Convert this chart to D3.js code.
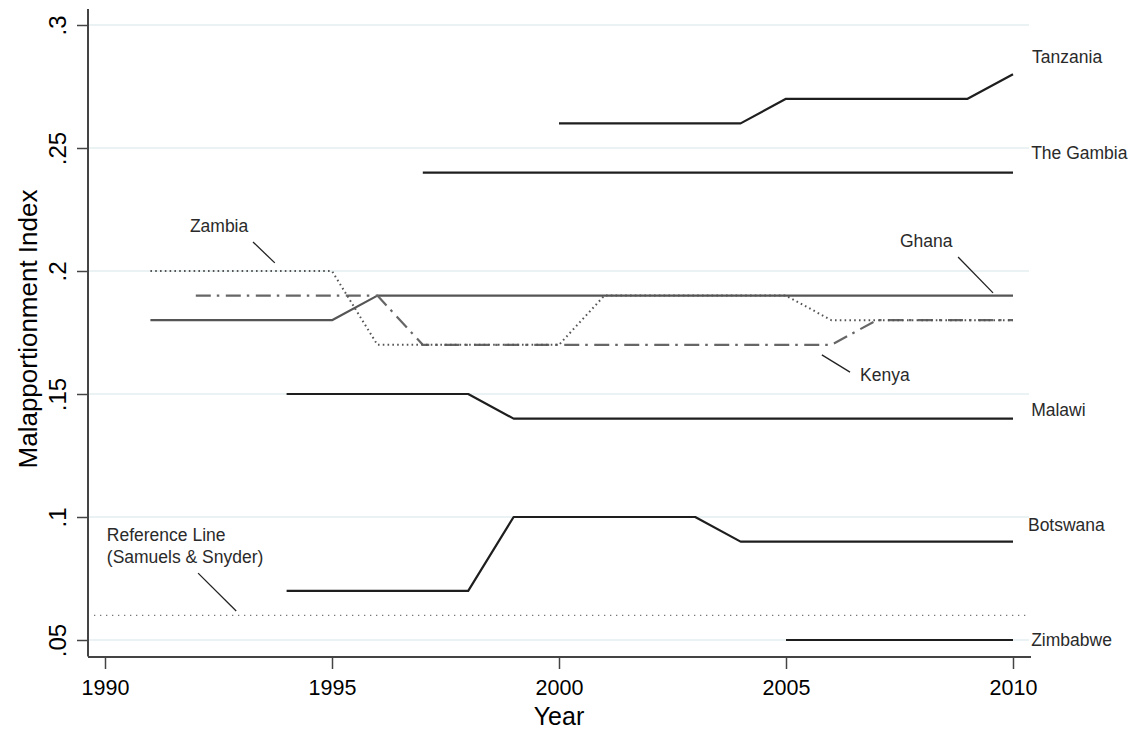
<!DOCTYPE html>
<html>
<head>
<meta charset="utf-8">
<script src="https://cdn.jsdelivr.net/npm/d3@7"></script>
<style>
  body { margin: 0; background: #fff; }
  svg { display: block; font-family: "Liberation Sans", Arial, Helvetica, sans-serif; }
</style>
</head>
<body>
<svg id="chart" width="1136" height="729"></svg>
<script>
// values
const xTicks = [1990, 1995, 2000, 2005, 2010];
const yTicks = [0.05, 0.1, 0.15, 0.2, 0.25, 0.3];
const yTickLabels = [".05", ".1", ".15", ".2", ".25", ".3"];

const tanzaniaYears = [2000, 2001, 2002, 2003, 2004, 2005, 2006, 2007, 2008, 2009, 2010];
const tanzaniaVals  = [0.26, 0.26, 0.26, 0.26, 0.26, 0.27, 0.27, 0.27, 0.27, 0.27, 0.28];

const gambiaYears = [1997, 1998, 1999, 2000, 2001, 2002, 2003, 2004, 2005, 2006, 2007, 2008, 2009, 2010];
const gambiaVals  = [0.24, 0.24, 0.24, 0.24, 0.24, 0.24, 0.24, 0.24, 0.24, 0.24, 0.24, 0.24, 0.24, 0.24];

const ghanaYears = [1991, 1992, 1993, 1994, 1995, 1996, 1997, 1998, 1999, 2000, 2001, 2002, 2003, 2004, 2005, 2006, 2007, 2008, 2009, 2010];
const ghanaVals  = [0.18, 0.18, 0.18, 0.18, 0.18, 0.19, 0.19, 0.19, 0.19, 0.19, 0.19, 0.19, 0.19, 0.19, 0.19, 0.19, 0.19, 0.19, 0.19, 0.19];

const zambiaYears = [1991, 1992, 1993, 1994, 1995, 1996, 1997, 1998, 1999, 2000, 2001, 2002, 2003, 2004, 2005, 2006, 2007, 2008, 2009, 2010];
const zambiaVals  = [0.20, 0.20, 0.20, 0.20, 0.20, 0.17, 0.17, 0.17, 0.17, 0.17, 0.19, 0.19, 0.19, 0.19, 0.19, 0.18, 0.18, 0.18, 0.18, 0.18];

const kenyaYears = [1992, 1993, 1994, 1995, 1996, 1997, 1998, 1999, 2000, 2001, 2002, 2003, 2004, 2005, 2006, 2007, 2008, 2009, 2010];
const kenyaVals  = [0.19, 0.19, 0.19, 0.19, 0.19, 0.17, 0.17, 0.17, 0.17, 0.17, 0.17, 0.17, 0.17, 0.17, 0.17, 0.18, 0.18, 0.18, 0.18];

const malawiYears = [1994, 1995, 1996, 1997, 1998, 1999, 2000, 2001, 2002, 2003, 2004, 2005, 2006, 2007, 2008, 2009, 2010];
const malawiVals  = [0.15, 0.15, 0.15, 0.15, 0.15, 0.14, 0.14, 0.14, 0.14, 0.14, 0.14, 0.14, 0.14, 0.14, 0.14, 0.14, 0.14];

const botswanaYears = [1994, 1995, 1996, 1997, 1998, 1999, 2000, 2001, 2002, 2003, 2004, 2005, 2006, 2007, 2008, 2009, 2010];
const botswanaVals  = [0.07, 0.07, 0.07, 0.07, 0.07, 0.10, 0.10, 0.10, 0.10, 0.10, 0.09, 0.09, 0.09, 0.09, 0.09, 0.09, 0.09];

const zimbabweYears = [2005, 2006, 2007, 2008, 2009, 2010];
const zimbabweVals  = [0.05, 0.05, 0.05, 0.05, 0.05, 0.05];

const referenceValue = 0.06;

// line styles per series
const series = [
  {years: tanzaniaYears, vals: tanzaniaVals, color: "#1e1e1e", width: 2.2, dash: null},
  {years: gambiaYears, vals: gambiaVals, color: "#1e1e1e", width: 2.2, dash: null},
  {years: ghanaYears, vals: ghanaVals, color: "#555", width: 2.2, dash: null},
  {years: kenyaYears, vals: kenyaVals, color: "#666", width: 2.2, dash: "15,6,2.5,6.5"},
  {years: zambiaYears, vals: zambiaVals, color: "#555", width: 2, dash: "1.6,3.2"},
  {years: malawiYears, vals: malawiVals, color: "#1e1e1e", width: 2.2, dash: null},
  {years: botswanaYears, vals: botswanaVals, color: "#1e1e1e", width: 2.2, dash: null},
  {years: zimbabweYears, vals: zimbabweVals, color: "#1e1e1e", width: 2.2, dash: null}
];

// annotation placement in data units
const labels = [
  {text: "Tanzania", x: 2010.42, y: 0.2846},
  {text: "The Gambia", x: 2010.4, y: 0.2455},
  {text: "Ghana", x: 2007.51, y: 0.2098},
  {text: "Zambia", x: 1991.87, y: 0.2159},
  {text: "Kenya", x: 2006.63, y: 0.1553},
  {text: "Malawi", x: 2010.4, y: 0.1411},
  {text: "Botswana", x: 2010.33, y: 0.0943},
  {text: "Zimbabwe", x: 2010.4, y: 0.0476},
  {text: "Reference Line", x: 1990.04, y: 0.0902},
  {text: "(Samuels & Snyder)", x: 1990.04, y: 0.0813}
];
const leaders = [
  [[2008.79, 0.2057], [2009.56, 0.1911]],
  [[1993.26, 0.2118], [1993.74, 0.2033]],
  [[2005.79, 0.1659], [2006.41, 0.1589]],
  [[1992.05, 0.0772], [1992.89, 0.0618]]
];

const svg = d3.select("#chart");
const x = d3.scaleLinear().domain([1990, 2010]).range([105, 1013]);
const y = d3.scaleLinear().domain([0.05, 0.3]).range([640, 25]);
const plotLeft = 88, plotRight = 1031, plotTop = 9, plotBottom = 657;

// gridlines
svg.append("g").selectAll("line")
  .data(yTicks)
  .join("line")
  .attr("x1", plotLeft + 1).attr("x2", plotRight - 2)
  .attr("y1", d => y(d)).attr("y2", d => y(d))
  .attr("stroke", "#e4eef0")
  .attr("stroke-width", 1.6);

// reference line
svg.append("line")
  .attr("x1", plotLeft + 6).attr("x2", plotRight - 3)
  .attr("y1", y(referenceValue)).attr("y2", y(referenceValue))
  .attr("stroke", "#777")
  .attr("stroke-width", 1.3)
  .attr("stroke-dasharray", "1.3,4.7");

// series
const line = d3.line().x(d => x(d[0])).y(d => y(d[1]));
svg.append("g").selectAll("path")
  .data(series)
  .join("path")
  .attr("d", s => line(s.years.map((yr, i) => [yr, s.vals[i]])))
  .attr("fill", "none")
  .attr("stroke", s => s.color)
  .attr("stroke-width", s => s.width)
  .attr("stroke-dasharray", s => s.dash)
  .attr("stroke-linejoin", "round");

// axes
const yAxis = svg.append("g")
  .attr("transform", `translate(${plotLeft},0)`)
  .call(d3.axisLeft(y).tickValues(yTicks).tickFormat((d, i) => yTickLabels[i]).tickSize(11).tickSizeOuter(0));
yAxis.select(".domain").attr("d", `M0,${plotTop}V${plotBottom - 0.5}`);
yAxis.selectAll(".tick text")
  .attr("x", null).attr("dy", null)
  .attr("transform", "translate(-22,0) rotate(-90)")
  .attr("text-anchor", "middle")
  .attr("font-size", 24)
  .attr("fill", "#000");

const xAxis = svg.append("g")
  .attr("transform", `translate(0,${plotBottom})`)
  .call(d3.axisBottom(x).tickValues(xTicks).tickFormat(d3.format("d")).tickSize(12).tickSizeOuter(0));
xAxis.select(".domain").attr("d", `M${plotLeft},0H${plotRight}`);
xAxis.selectAll(".tick text")
  .attr("y", 38).attr("dy", null)
  .attr("font-size", 21.5)
  .attr("fill", "#000");

svg.selectAll(".domain").attr("stroke", "#444").attr("stroke-width", 2);
svg.selectAll(".tick line").attr("stroke", "#444").attr("stroke-width", 1.5);

// axis titles
svg.append("text")
  .attr("transform", "translate(37,329) rotate(-90)")
  .attr("text-anchor", "middle")
  .attr("font-size", 26)
  .attr("fill", "#000")
  .text("Malapportionment Index");
svg.append("text")
  .attr("x", x(2000)).attr("y", 725)
  .attr("text-anchor", "middle")
  .attr("font-size", 25)
  .attr("fill", "#000")
  .text("Year");

// annotations
svg.append("g").selectAll("text")
  .data(labels)
  .join("text")
  .attr("x", d => x(d.x)).attr("y", d => y(d.y))
  .attr("font-size", 17.5)
  .attr("fill", "#2a2a2a")
  .text(d => d.text);
svg.append("g").selectAll("line")
  .data(leaders)
  .join("line")
  .attr("x1", d => x(d[0][0])).attr("y1", d => y(d[0][1]))
  .attr("x2", d => x(d[1][0])).attr("y2", d => y(d[1][1]))
  .attr("stroke", "#222")
  .attr("stroke-width", 1.3);
</script>
</body>
</html>
